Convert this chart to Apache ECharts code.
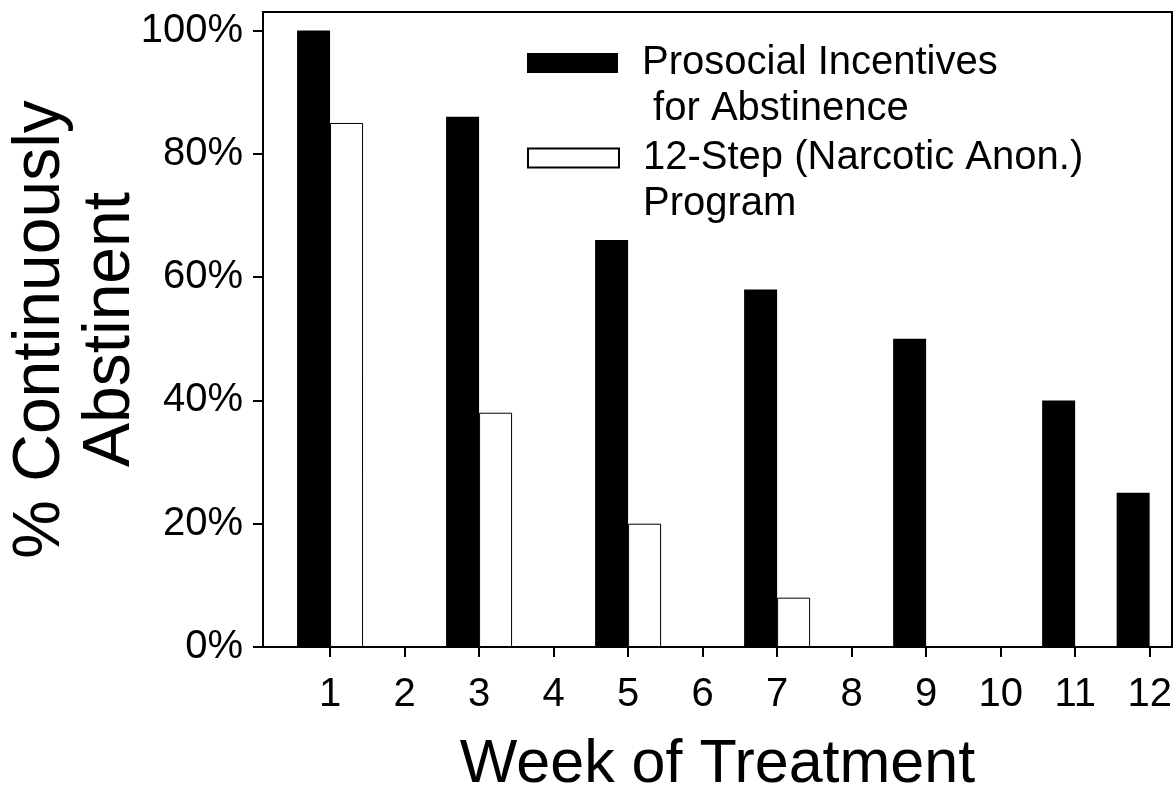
<!DOCTYPE html>
<html><head><meta charset="utf-8">
<script src="https://cdn.jsdelivr.net/npm/echarts@6/dist/echarts.min.js"></script>
<style>html,body{margin:0;padding:0;background:#fff}#c{width:1173px;height:803px}</style>
</head><body><div id="c"></div>
<script>
const weeks = [1,2,3,4,5,6,7,8,9,10,11,12];
const prosocial = [100,0,86,0,66,0,58,0,50,0,40,25];
const twelveStep = [85,0,38,0,20,0,8,0,0,0,0,0];
const yTicks = [0,20,40,60,80,100];
const seriesNames = ['Prosocial Incentives\n for Abstinence', '12-Step (Narcotic Anon.)\nProgram'];
const xTitle = 'Week of Treatment';
const yTitle = '% Continuously\nAbstinent';
const FONT = '"Liberation Sans", Arial, Helvetica, sans-serif';

const chart = echarts.init(document.getElementById('c'), null, {renderer: 'canvas'});
const legendText = {fontFamily: FONT, fontSize: 40, color: '#000', lineHeight: 46, padding: [0, 0, 0, 19]};
// a leading empty line puts the first real line level with the swatch
const legendFmt = function (name) { return '\n' + name; };
chart.setOption({
  animation: false,
  backgroundColor: '#fff',
  textStyle: {fontFamily: FONT},
  grid: {left: 263, right: 1, top: 12, bottom: 156, show: true, borderColor: '#000', borderWidth: 2, containLabel: false, outerBoundsMode: 'none'},
  legend: [
    {data: [seriesNames[0]], left: 527, top: -6, padding: 0, icon: 'rect', itemWidth: 91, itemHeight: 20, textStyle: legendText, formatter: legendFmt, selectedMode: false},
    {data: [seriesNames[1]], left: 527, top: 89, padding: 0, icon: 'rect', itemWidth: 91, itemHeight: 19, textStyle: legendText, formatter: legendFmt, selectedMode: false}
  ],
  xAxis: {
    type: 'value', min: 0.1, max: 12.3,
    axisLine: {show: true, onZero: false, lineStyle: {color: '#000', width: 2}},
    axisTick: {show: true, customValues: weeks, length: 10, inside: false, lineStyle: {color: '#000', width: 2}},
    axisLabel: {show: true, customValues: weeks, formatter: '{value}', fontSize: 40, color: '#000', margin: 28, fontFamily: FONT},
    splitLine: {show: false},
    name: xTitle, nameLocation: 'middle', nameGap: 88, nameMoveOverlap: false,
    nameTextStyle: {fontSize: 61, color: '#000', fontFamily: FONT}
  },
  yAxis: {
    type: 'value', min: 0, max: 103,
    axisLine: {show: true, lineStyle: {color: '#000', width: 2}},
    axisTick: {show: true, customValues: yTicks, length: 10, inside: false, lineStyle: {color: '#000', width: 2}},
    axisLabel: {show: true, customValues: yTicks, formatter: function (v) { return v + '%'; }, fontSize: 40, color: '#000', margin: 20, fontFamily: FONT},
    splitLine: {show: false},
    name: yTitle, nameLocation: 'middle', nameRotate: 90, nameGap: 117, nameMoveOverlap: false,
    nameTextStyle: {fontSize: 66, lineHeight: 70, color: '#000', fontFamily: FONT, align: 'center'}
  },
  series: [
    {
      name: seriesNames[0], type: 'bar', barWidth: 33, barGap: '0%',
      itemStyle: {color: '#000', borderColor: '#000', borderWidth: 0},
      data: weeks.map((w, i) => [w, prosocial[i]])
    },
    {
      name: seriesNames[1], type: 'bar', barWidth: 33, barGap: '0%',
      itemStyle: {color: '#fff', borderColor: '#000', borderWidth: 1},
      data: weeks.map((w, i) => [w, twelveStep[i]])
    }
  ]
});
</script>
</body></html>
